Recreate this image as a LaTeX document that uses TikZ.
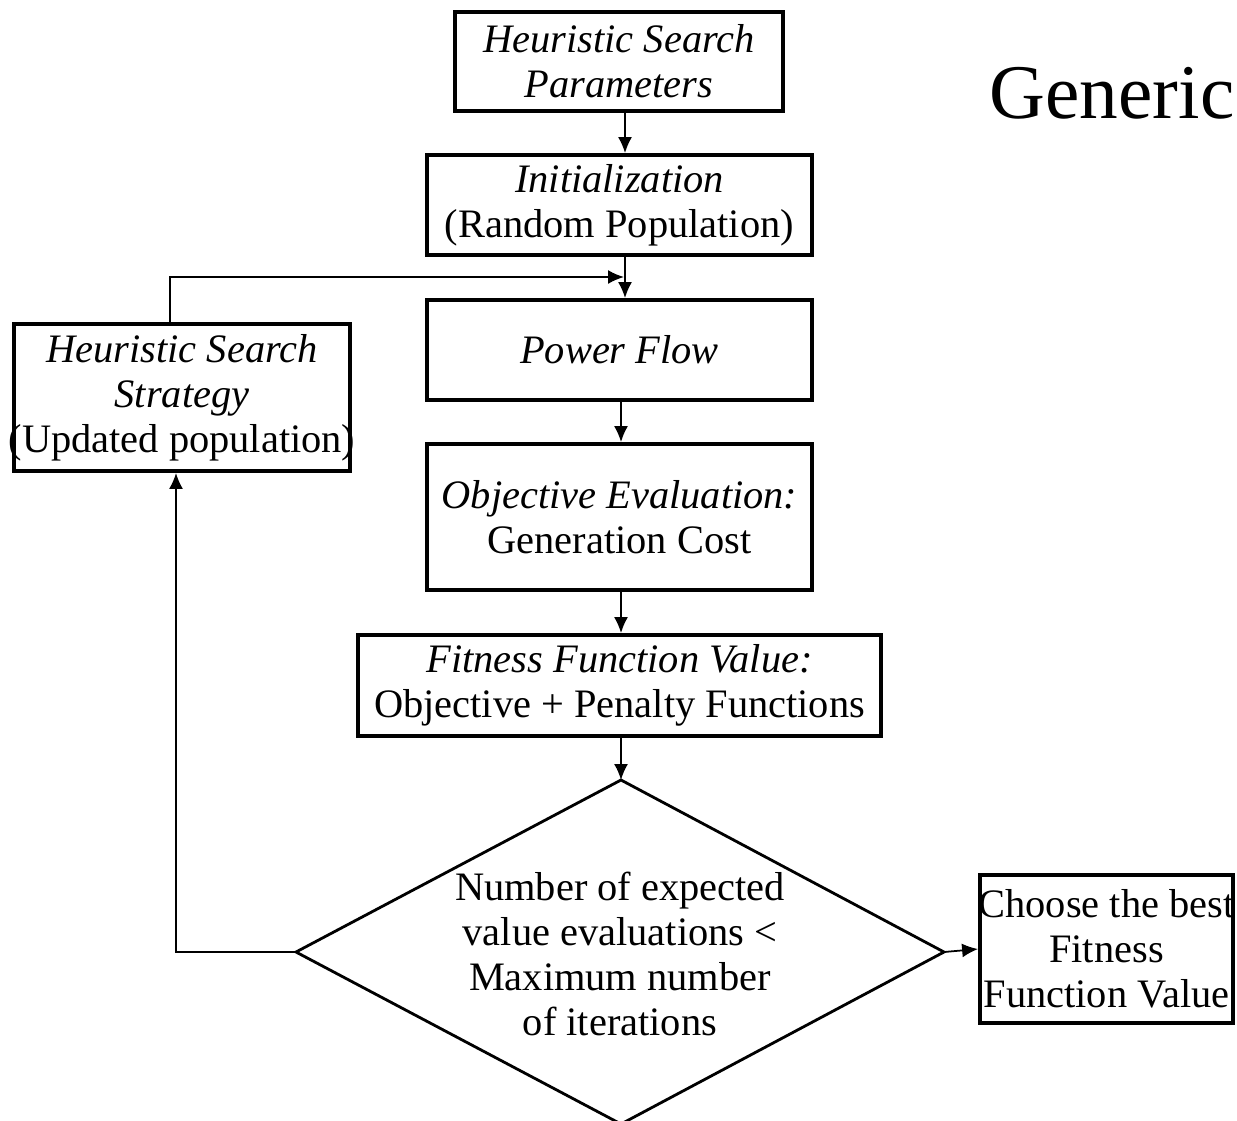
\documentclass[tikz,border=0pt]{standalone}
\usepackage{fontspec}
\setmainfont{Liberation Serif}
\usetikzlibrary{arrows.meta}
\begin{document}
\begin{tikzpicture}[x=0.02cm,y=-0.02cm,
  box/.style={draw,line width=2.2pt,align=center,inner sep=0pt,
    font=\fontsize{23}{25.6}\selectfont},
  arr/.style={line width=1pt,-{Latex[length=0.32cm,width=0.28cm]}},
  ln/.style={line width=1pt}]
\useasboundingbox (0,0) rectangle (1237,1120);
\node[box,minimum width=6.56cm,minimum height=1.98cm] (par) at (619,61.5) {\itshape Heuristic Search\\\itshape Parameters};
\node[box,minimum width=7.7cm,minimum height=2.0cm] (init) at (619.5,205) {\itshape Initialization\\(Random Population)};
\node[box,minimum width=7.7cm,minimum height=2.0cm] (pf) at (619.5,350) {\itshape Power Flow};
\node[box,minimum width=7.7cm,minimum height=2.92cm] (obj) at (619.5,517) {\itshape Objective Evaluation:\\Generation Cost};
\node[box,minimum width=10.46cm,minimum height=2.02cm] (fit) at (619.5,685.5) {\itshape Fitness Function Value:\\Objective + Penalty Functions};
\node[box,minimum width=6.72cm,minimum height=2.94cm] (strat) at (182,397.5) {\makebox[6cm]{\itshape Heuristic Search}\\\makebox[6cm]{\itshape Strategy}\\\makebox[6cm]{(Updated population)}};
\node[box,minimum width=5.06cm,minimum height=2.96cm] (best) at (1106.5,949) {\makebox[4.6cm]{Choose the best}\\\makebox[4.6cm]{Fitness}\\\makebox[4.6cm]{Function Value}};
\coordinate (dt) at (621,780);
\coordinate (dl) at (296,952);
\coordinate (dr) at (944,952);
\coordinate (db) at (621,1124);
\draw[line width=1.6pt,line join=miter] (dt) -- (dr) -- (db) -- (dl) -- cycle;
\node[align=center,inner sep=0pt,font=\fontsize{23}{25.6}\selectfont] (dtext) at (620,954) {Number of expected\\value evaluations <\\Maximum number\\of iterations};
\node[font=\fontsize{44}{50}\selectfont,inner sep=0pt] (gen) at (1112,93) {Generic};
\draw[arr] (par.south -| 625,0) -- (init.north -| 625,0);
\draw[arr] (init.south -| 625,0) -- (pf.north -| 625,0);
\coordinate (loopend) at (624,277);
\draw[arr] (strat.north -| 170,0) |- (loopend);
\draw[arr] (pf.south -| 621,0) -- (obj.north -| 621,0);
\draw[arr] (obj.south -| 621,0) -- (fit.north -| 621,0);
\draw[arr] (fit.south -| dt) -- (dt);
\draw[arr] (dl) -| (strat.south -| 176,0);
\draw[arr] (dr) -- (best.west);
\end{tikzpicture}
\end{document}
